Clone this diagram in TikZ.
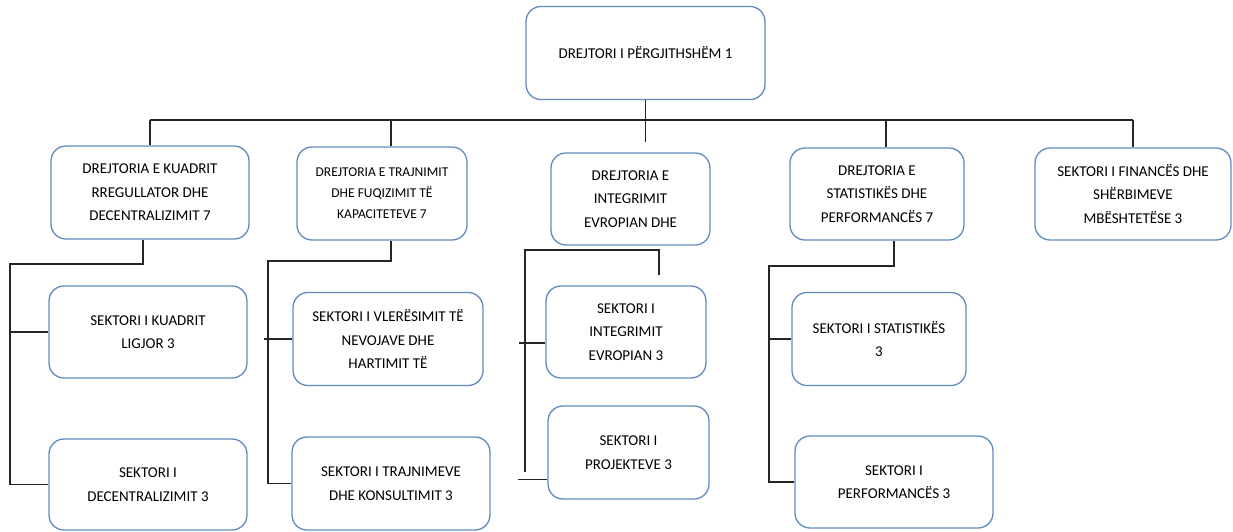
\documentclass[tikz,border=0pt]{standalone}
\usepackage{fontspec}
\setmainfont{Carlito}
\usepackage{tikz}
\usetikzlibrary{calc}
\definecolor{boxblue}{RGB}{96,138,192}
\tikzset{bx/.style={draw=boxblue, line width=1.3pt, rounded corners=15pt, align=center, inner sep=0pt, text=black}}
\tikzset{f/.style={font=\fontsize{15}{23.5}\selectfont}}
\tikzset{s/.style={font=\fontsize{13.5}{21}\selectfont}}
\tikzset{ln/.style={draw=black!85, line width=1.1pt}}

\begin{document}
\begin{tikzpicture}[x=1pt,y=-1pt]
  \useasboundingbox (0,0) rectangle (1233,531);
  % top
  \node[bx, f, minimum width=239pt, minimum height=93pt] (top) at (645.5,53) {DREJTORI I PËRGJITHSHËM 1};
  % directorates
  \node[bx, f, minimum width=198pt, minimum height=93pt] (d1) at (150,192.5) {DREJTORIA E KUADRIT\\RREGULLATOR DHE\\DECENTRALIZIMIT 7};
  \node[bx, s, minimum width=170pt, minimum height=93pt] (d2) at (382,193.5) {DREJTORIA E TRAJNIMIT\\DHE FUQIZIMIT TË\\KAPACITETEVE 7};
  \node[bx, f, minimum width=159pt, minimum height=92pt] (d3) at (630.5,199) {DREJTORIA E\\INTEGRIMIT\\EVROPIAN DHE};
  \node[bx, f, minimum width=174pt, minimum height=92pt] (d4) at (877,194) {DREJTORIA E\\STATISTIKËS DHE\\PERFORMANCËS 7};
  \node[bx, f, minimum width=196pt, minimum height=92pt] (d5) at (1133,194) {SEKTORI I FINANCËS DHE\\SHËRBIMEVE\\MBËSHTETËSE 3};
  % sectors
  \node[bx, f, minimum width=198pt, minimum height=92pt] (s1a) at (148,332) {SEKTORI I KUADRIT\\LIGJOR 3};
  \node[bx, f, minimum width=198pt, minimum height=91pt] (s1b) at (148,484.5) {SEKTORI I\\DECENTRALIZIMIT 3};
  \node[bx, f, minimum width=190pt, minimum height=93pt] (s2a) at (388,339) {SEKTORI I VLERËSIMIT TË\\NEVOJAVE DHE\\HARTIMIT TË};
  \node[bx, f, minimum width=198pt, minimum height=93pt] (s2b) at (391,483.5) {SEKTORI I TRAJNIMEVE\\DHE KONSULTIMIT 3};
  \node[bx, f, minimum width=160pt, minimum height=92pt] (s3a) at (626,332) {SEKTORI I\\INTEGRIMIT\\EVROPIAN 3};
  \node[bx, f, minimum width=161pt, minimum height=93pt] (s3b) at (628.5,452.5) {SEKTORI I\\PROJEKTEVE 3};
  \node[bx, f, minimum width=174pt, minimum height=93pt] (s4a) at (879,339) {SEKTORI I STATISTIKËS\\3};
  \node[bx, f, minimum width=198pt, minimum height=92pt] (s4b) at (894,482) {SEKTORI I\\PERFORMANCËS 3};

  % bus
  \coordinate (bus) at (0,120);
  \coordinate (j2) at (391,0);
  \coordinate (j4) at (886,0);
  \draw[ln] (d1.north |- bus) -- (d5.north |- bus);
  \draw[ln] (top.south) -- ++(0,42);
  \draw[ln] (d1.north |- bus) -- (d1.north);
  \draw[ln] (j2 |- bus) -- (j2 |- d2.north);
  \draw[ln] (j4 |- bus) -- (j4 |- d4.north);
  \draw[ln] (d5.north |- bus) -- (d5.north);

  % column 1
  \coordinate (k1) at (143,0);
  \coordinate (v1) at (10,264);
  \draw[ln] (k1 |- d1.south) |- (v1) -- (v1 |- s1b.west) -- (s1b.west);
  \draw[ln] (v1 |- s1a.west) -- (s1a.west);

  % column 2
  \coordinate (v2) at (268,261);
  \draw[ln] (j2 |- d2.south) |- (v2) -- (v2 |- s2b.west) -- (s2b.west);
  \draw[ln] (s2a.west) -- ++(-28,0);

  % column 3
  \coordinate (v3) at (525,250);
  \coordinate (k3) at (659,275);
  \draw[ln] (k3) |- (v3) -- ++(0,222);
  \draw[ln] (s3a.west) ++(0,11) -- ++(-26,0);
  \draw[ln] (s3b.west) ++(0,27) -- ++(-29,0);

  % column 4
  \coordinate (k4) at (894,0);
  \coordinate (v4) at (769,266);
  \draw[ln] (k4 |- d4.south) |- (v4) -- (v4 |- s4b.west) -- (s4b.west);
  \draw[ln] (v4 |- s4a.west) -- (s4a.west);
\end{tikzpicture}
\end{document}
